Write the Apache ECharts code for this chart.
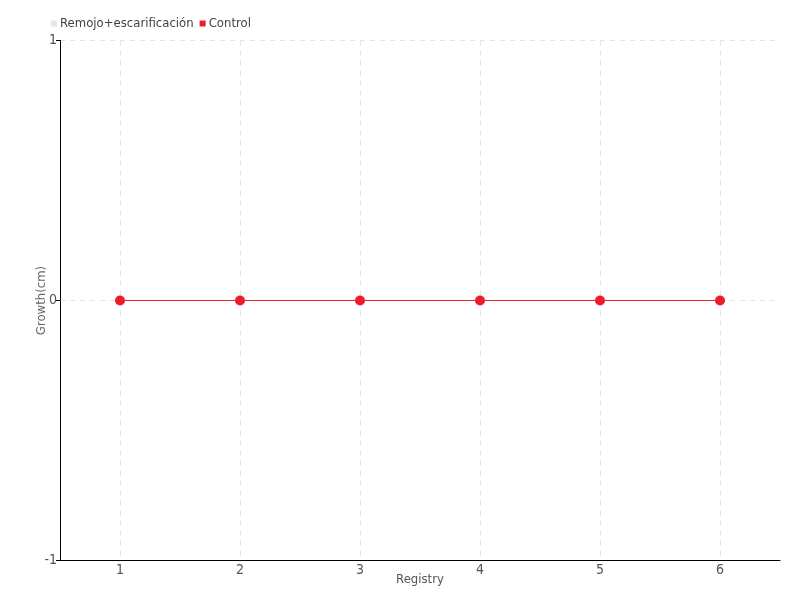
<!DOCTYPE html>
<html><head><meta charset="utf-8">
<script src="https://cdn.jsdelivr.net/npm/echarts@6/dist/echarts.min.js"></script>
<style>html,body{margin:0;padding:0;background:#fff}#c{width:800px;height:600px}</style>
</head><body><div id="c"></div>
<script>
const categories = ['1', '2', '3', '4', '5', '6'];
const remojoValues = [];
const controlValues = [0, 0, 0, 0, 0, 0];
const seriesNames = ['Remojo+escarificación', 'Control'];
const FONT = '"DejaVu Sans Condensed", "Liberation Sans Narrow", sans-serif';
const chart = echarts.init(document.getElementById('c'));
chart.setOption({
  animation: false,
  textStyle: { fontFamily: FONT },
  legend: {
    left: 46, top: 12, itemWidth: 6, itemHeight: 6, itemGap: 6,
    icon: 'rect',
    textStyle: { fontFamily: FONT, fontSize: 13, color: '#444', padding: [0, 0, 0, -2] },
    data: seriesNames
  },
  grid: { left: 60, right: 20, top: 40.5, bottom: 39.5 },
  xAxis: {
    type: 'category', data: categories, boundaryGap: true,
    name: 'Registry', nameLocation: 'middle', nameGap: 13, nameMoveOverlap: false,
    nameTextStyle: { fontFamily: FONT, fontSize: 13, color: '#555' },
    axisLine: { onZero: false, lineStyle: { color: '#000', width: 1 } },
    axisTick: { alignWithLabel: true, inside: true, length: 5, lineStyle: { color: '#000' } },
    axisLabel: { fontFamily: FONT, fontSize: 14, color: '#555', margin: 3 },
    splitLine: { show: true, alignWithLabel: true, lineStyle: { color: '#e3e3e3', type: [5, 5] } }
  },
  yAxis: {
    type: 'value', min: -1, max: 1, interval: 1,
    name: 'Growth(cm)', nameLocation: 'middle', nameGap: 12, nameMoveOverlap: false,
    nameTextStyle: { fontFamily: FONT, fontSize: 13, color: '#666' },
    axisLine: { show: true, lineStyle: { color: '#000', width: 1 } },
    axisTick: { show: true, length: 4, lineStyle: { color: '#000' } },
    axisLabel: { fontFamily: FONT, fontSize: 14, color: '#555', margin: 3 },
    splitLine: { show: true, lineStyle: { color: '#e3e3e3', type: [5, 5] } }
  },
  series: [
    { name: seriesNames[0], type: 'line', data: remojoValues, itemStyle: { color: '#e6e6e6' }, lineStyle: { color: '#e6e6e6' } },
    { name: seriesNames[1], type: 'line', data: controlValues, symbol: 'circle', symbolSize: 10,
      itemStyle: { color: '#ee1c2a' }, lineStyle: { color: '#ee1c2a', width: 1 } }
  ]
});
</script></body></html>
